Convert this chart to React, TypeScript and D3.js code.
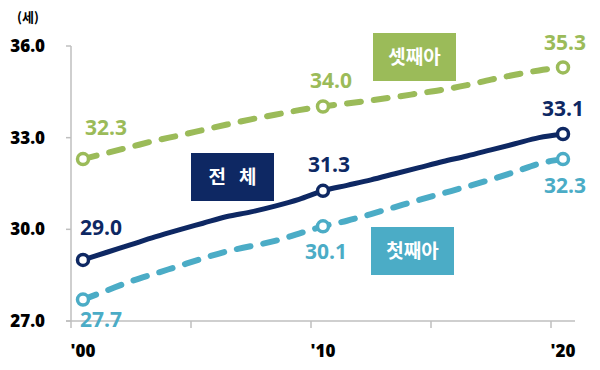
import React, { useEffect, useRef } from 'react';
import { select, scaleBand, scaleLinear, line, curveMonotoneX, range } from 'd3';

const years = range(2000, 2021);
const total = [29.0, 29.25, 29.5, 29.75, 29.98, 30.2, 30.42, 30.57, 30.76, 30.98, 31.26, 31.44, 31.62, 31.82, 32.02, 32.22, 32.4, 32.6, 32.8, 33.0, 33.12];
const first = [27.7, 28.0, 28.3, 28.55, 28.8, 29.05, 29.28, 29.45, 29.62, 29.86, 30.1, 30.28, 30.5, 30.73, 30.96, 31.18, 31.4, 31.63, 31.88, 32.15, 32.3];
const third = [32.3, 32.5, 32.7, 32.9, 33.07, 33.25, 33.43, 33.6, 33.75, 33.9, 34.02, 34.12, 34.22, 34.33, 34.45, 34.57, 34.72, 34.9, 35.06, 35.2, 35.3];
const yTicks = [27, 30, 33, 36];
const xTickLabels = ["'00", "'10", "'20"];
const markedYears = [2000, 2010, 2020];

const NUM_FONT = "'Open Sans', 'Liberation Sans', sans-serif";
const KR_FONT = "'Noto Sans CJK KR', sans-serif";

const series = [
  { name: '셋째아', values: third, color: '#9bbb59', dash: '14,13', labelOffsets: [[23, -24], [8, -19], [2, -17]], box: [373, 33] },
  { name: '전   체', values: total, color: '#0e2863', dash: null, labelOffsets: [[18, -25], [6, -19], [0, -18]], box: [191, 153] },
  { name: '첫째아', values: first, color: '#4bacc6', dash: '14,13', labelOffsets: [[18, 27], [3, 33], [2, 34]], box: [371, 227] },
];

const Chart = () => {
  const ref = useRef<SVGSVGElement>(null);

  useEffect(() => {
    const svg = select(ref.current);
    svg.selectAll('*').remove();

    const x = scaleBand<number>().domain(years).range([71, 575]).padding(0);
    const cx = (yr: number) => (x(yr) as number) + x.bandwidth() / 2;
    const y = scaleLinear().domain([27, 36]).range([321, 46]);

    // axes
    const axisColor = '#bfbfbf';
    svg.append('line').attr('x1', 71).attr('x2', 71).attr('y1', y(36)).attr('y2', y(27))
      .attr('stroke', axisColor).attr('stroke-width', 1.5);
    svg.append('line').attr('x1', 66).attr('x2', x.range()[1]).attr('y1', y(27)).attr('y2', y(27))
      .attr('stroke', axisColor).attr('stroke-width', 1.5);
    yTicks.forEach((t) => {
      svg.append('line').attr('x1', 66).attr('x2', 71).attr('y1', y(t)).attr('y2', y(t))
        .attr('stroke', axisColor).attr('stroke-width', 1.5);
      svg.append('text').attr('x', 45).attr('y', y(t) + 6).attr('text-anchor', 'end')
        .attr('font-family', NUM_FONT).attr('font-weight', 800).attr('font-size', 17)
        .attr('fill', '#000').text(t.toFixed(1));
    });
    years.filter((yr) => (yr - 2000) % 5 === 0).forEach((yr) => {
      svg.append('line').attr('x1', x(yr)!).attr('x2', x(yr)!).attr('y1', y(27)).attr('y2', y(27) + 7)
        .attr('stroke', axisColor).attr('stroke-width', 1.5);
    });
    markedYears.forEach((yr, i) => {
      svg.append('text').attr('x', cx(yr)).attr('y', 357).attr('text-anchor', 'middle')
        .attr('font-family', NUM_FONT).attr('font-weight', 800).attr('font-size', 17)
        .attr('fill', '#000').text(xTickLabels[i]);
    });
    svg.append('text').attr('x', 28).attr('y', 22).attr('text-anchor', 'middle')
      .attr('font-family', KR_FONT).attr('font-weight', 'bold').attr('font-size', 13)
      .attr('fill', '#000').text('(세)');

    const gen = line<number>().x((_, i) => cx(years[i])).y((d) => y(d)).curve(curveMonotoneX);

    series.forEach((s) => {
      svg.append('path').attr('d', gen(s.values)).attr('fill', 'none')
        .attr('stroke', s.color).attr('stroke-width', s.dash ? 6 : 5)
        .attr('stroke-linecap', 'round').attr('stroke-linejoin', 'round')
        .attr('stroke-dasharray', s.dash);

      markedYears.forEach((yr, i) => {
        const v = s.values[years.indexOf(yr)];
        svg.append('circle').attr('cx', cx(yr)).attr('cy', y(v)).attr('r', 5.5)
          .attr('fill', '#fff').attr('stroke', s.color).attr('stroke-width', 3.5);
        const [dx, dy] = s.labelOffsets[i];
        svg.append('text').attr('x', cx(yr) + dx).attr('y', y(v) + dy).attr('text-anchor', 'middle')
          .attr('font-family', NUM_FONT).attr('font-weight', 'bold').attr('font-size', 21)
          .attr('fill', s.color).text(v.toFixed(1));
      });

      const [bx, by] = s.box;
      svg.append('rect').attr('x', bx).attr('y', by).attr('width', 83).attr('height', 48).attr('fill', s.color);
      svg.append('text').attr('x', bx + 41.5).attr('y', by + 31).attr('text-anchor', 'middle')
        .attr('font-family', KR_FONT).attr('font-weight', 'bold').attr('font-size', 19)
        .attr('fill', '#fff').attr('xml:space', 'preserve').style('white-space', 'pre').text(s.name);
    });
  }, []);

  return <svg ref={ref} width={600} height={370} style={{ position: 'absolute', left: 0, top: 0, background: '#fff' }} />;
};

export default function App() {
  return <Chart />;
}
